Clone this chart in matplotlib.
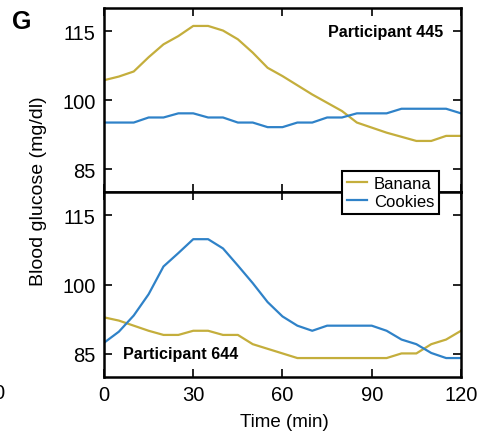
import matplotlib
matplotlib.use("Agg")
import matplotlib.pyplot as plt

plt.rcParams["font.family"] = ["Liberation Sans", "DejaVu Sans"]

# minutes after the meal
time = [0, 5, 10, 15, 20, 25, 30, 35, 40, 45, 50, 55, 60,
        65, 70, 75, 80, 85, 90, 95, 100, 105, 110, 115, 120]

# participant 445
banana_445 = [104.3, 105.1, 106.2, 109.3, 112.1, 113.9, 116.1, 116.1, 115.1,
              113.2, 110.3, 107.0, 105.2, 103.2, 101.2, 99.4, 97.6, 95.1,
              94.0, 92.9, 92.0, 91.1, 91.1, 92.2, 92.2]
cookies_445 = [95.1, 95.1, 95.1, 96.2, 96.2, 97.1, 97.1, 96.2, 96.2, 95.1,
               95.1, 94.1, 94.1, 95.1, 95.1, 96.2, 96.2, 97.1, 97.1, 97.1,
               98.1, 98.1, 98.1, 98.1, 97.1]

# participant 644
banana_644 = [92.9, 92.2, 91.1, 90.0, 89.1, 89.1, 90.0, 90.0, 89.1, 89.1,
              87.1, 86.1, 85.1, 84.1, 84.1, 84.1, 84.1, 84.1, 84.1, 84.1,
              85.1, 85.1, 87.1, 88.1, 90.0]
cookies_644 = [87.4, 89.8, 93.3, 97.9, 103.9, 106.8, 109.8, 109.8, 107.8,
               104.1, 100.3, 96.2, 93.1, 91.1, 90.0, 91.1, 91.1, 91.1, 91.1,
               90.0, 88.1, 87.1, 85.2, 84.1, 84.1]

xticks = [0, 30, 60, 90, 120]
yticks = [85, 100, 115]

BANANA = "#c4ae3c"
COOKIES = "#2f82c8"

fig = plt.figure(figsize=(4.79, 4.35), dpi=100)
ax_top = fig.add_axes([0.2171, 0.5563, 0.7453, 0.4230])
ax_bot = fig.add_axes([0.2171, 0.1310, 0.7453, 0.4253])

panels = [
    (ax_top, banana_445, cookies_445),
    (ax_bot, banana_644, cookies_644),
]
for ax, ban, coo in panels:
    ax.plot(time, ban, color=BANANA, lw=1.6, label="Banana")
    ax.plot(time, coo, color=COOKIES, lw=1.6, label="Cookies")
    ax.set_xlim(0, 120)
    ax.set_ylim(80, 120)
    ax.set_xticks(xticks)
    ax.set_yticks(yticks)
    ax.tick_params(direction="in", top=True, right=True, length=6,
                   width=1.2, labelsize=14.5, pad=6)
    for sp in ax.spines.values():
        sp.set_linewidth(1.8)

ax_top.tick_params(labelbottom=False)

ax_top.text(0.95, 0.875, "Participant 445", transform=ax_top.transAxes,
            ha="right", va="center", fontsize=11.6, fontweight="bold")
ax_bot.text(0.053, 0.125, "Participant 644", transform=ax_bot.transAxes,
            ha="left", va="center", fontsize=11.6, fontweight="bold")

handles, labels = ax_top.get_legend_handles_labels()
leg = fig.legend(handles, labels, loc="center",
                 bbox_to_anchor=(390.5 / 479, 1 - 193.5 / 435),
                 fontsize=12, handlelength=1.2, handletextpad=0.4,
                 borderpad=0.3, labelspacing=0.2, fancybox=False,
                 framealpha=1, edgecolor="black")
leg.get_frame().set_linewidth(1.5)

fig.text(39 / 479, 1 - 191 / 435, "Blood glucose (mg/dl)", rotation=90,
         ha="center", va="center", fontsize=14)
fig.text(284 / 479, 1 - 423 / 435, "Time (min)", ha="center", va="center",
         fontsize=13.5)
fig.text(22 / 479, 1 - 22 / 435, "G", ha="center", va="center",
         fontsize=18, fontweight="bold")
# edge of the neighbouring panel's tick label
fig.text(4 / 479, 1 - 394 / 435, "0", ha="right", va="center", fontsize=14.5)

fig.savefig("out.png", dpi=100)
